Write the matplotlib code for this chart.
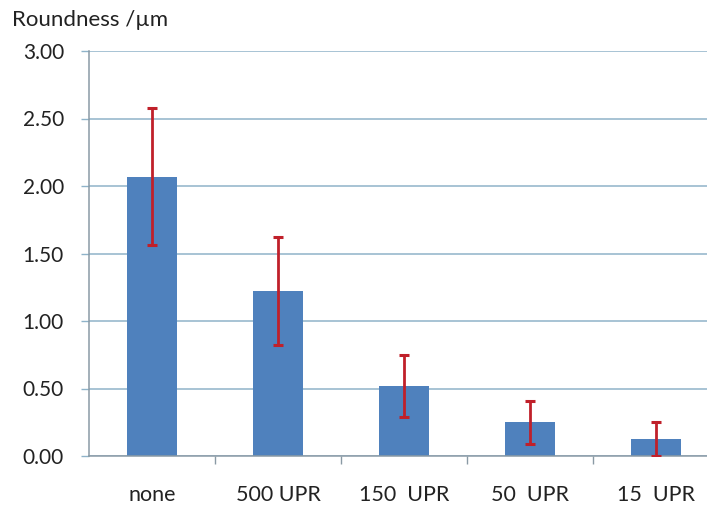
import matplotlib
matplotlib.use("Agg")
import matplotlib.pyplot as plt

# Roundness per treatment, mean and standard deviation (µm)
categories = ["none", "500 UPR", "150  UPR", "50  UPR", "15  UPR"]
roundness = [2.07, 1.22, 0.52, 0.25, 0.125]
roundness_err = [0.51, 0.40, 0.23, 0.16, 0.125]
y_ticks = [0.0, 0.5, 1.0, 1.5, 2.0, 2.5, 3.0]

plt.rcParams['font.family'] = ['Lato', 'DejaVu Sans']

fig = plt.figure(figsize=(7.07, 5.09), dpi=100)
ax = fig.add_axes([89 / 707, 53 / 509, 630 / 707, 405 / 509])

x = list(range(len(categories)))
ax.bar(x, roundness, width=0.39, color="#4F81BD", zorder=2)
ax.errorbar(x, roundness, yerr=roundness_err, fmt="none", ecolor="#C0202A",
            elinewidth=2.0, capsize=3.8, capthick=2.2, zorder=3)

ax.set_xlim(-0.5, len(categories) - 0.5)
ax.set_ylim(0, 3.0)
ax.set_yticks(y_ticks)
ax.set_yticklabels([f"{v:.2f}" for v in y_ticks])
ax.yaxis.grid(True, color="#8FB3C9", linewidth=1.1, zorder=0)
ax.set_axisbelow(True)

ax.set_xticks([i + 0.5 for i in x[:-1]])
ax.set_xticklabels([])
ax.set_xticks(x, minor=True)
ax.set_xticklabels(categories, minor=True)
ax.tick_params(axis="x", which="minor", length=0, pad=21, labelsize=15.5, labelcolor="#222222")
ax.tick_params(axis="x", which="major", length=6, width=1, color="#8A9AA5", direction="out")
ax.tick_params(axis="y", length=6, width=1, color="#8FB3C9", pad=12, labelsize=15, labelcolor="#222222")

for side in ("top", "right"):
    ax.spines[side].set_visible(False)
for side in ("left", "bottom"):
    ax.spines[side].set_color("#8A9AA5")
    ax.spines[side].set_linewidth(1.1)

fig.text(12 / 707, 1 - 20 / 509, "Roundness /µm", fontsize=16, color="#222222",
         ha="left", va="center")

fig.savefig("out.png", dpi=100)
